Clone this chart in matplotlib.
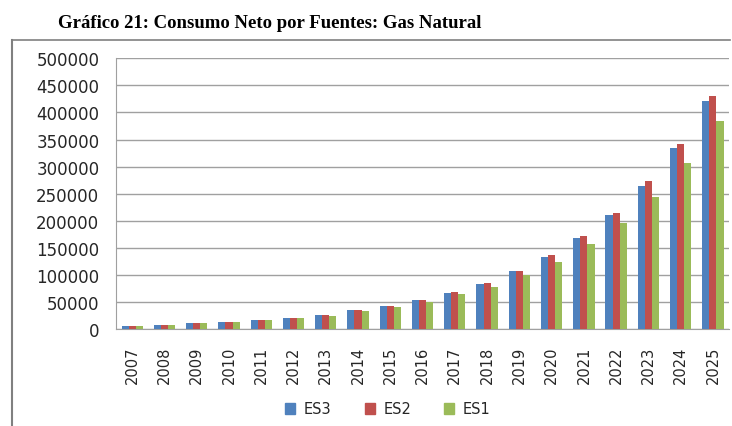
import matplotlib.pyplot as plt
import numpy as np
from matplotlib.lines import Line2D
from matplotlib.patches import Patch

YEARS = [str(y) for y in range(2007, 2026)]
ES3 = [6000, 8000, 11700, 13500, 16600, 20900, 25300, 34500, 41900, 52900,
       67100, 84000, 106500, 133000, 168100, 211200, 264700, 334900, 421100]
ES2 = [6000, 8000, 11700, 13500, 16600, 20900, 26500, 34500, 41900, 53000,
       68900, 85500, 106500, 136100, 171200, 214300, 272700, 341700, 431000]
ES1 = [5800, 7800, 11500, 13300, 16400, 20500, 24800, 32700, 40600, 49900,
       64000, 78000, 99700, 123700, 156400, 195200, 243800, 306600, 383600]

SERIES = [("ES3", ES3, "#4F81BD"), ("ES2", ES2, "#C0504D"), ("ES1", ES1, "#9BBB59")]
TXT = "#262626"


def main():
    fig = plt.figure(figsize=(7.32, 4.27), dpi=100)
    ax = fig.add_axes([0.1585, 0.2272, 0.8375, 0.6339])

    x = np.arange(len(YEARS))
    w = 0.22
    for k, (name, vals, col) in enumerate(SERIES):
        ax.bar(x + (k - 1) * w, vals, w, color=col, label=name, zorder=3)

    ax.set_xlim(-0.5, len(YEARS) - 0.5)
    ax.set_ylim(0, 500000)
    ax.set_yticks(np.arange(0, 500001, 50000))
    ax.set_xticks(x)
    ax.set_xticklabels(YEARS, rotation=90, fontsize=10.5)
    ax.tick_params(axis="y", labelsize=12, length=0, pad=12, labelcolor=TXT)
    ax.tick_params(axis="x", length=0, pad=12, labelcolor=TXT)
    ax.grid(axis="y", color="#a0a0a0", linewidth=1, zorder=0)
    for s in ["top", "right"]:
        ax.spines[s].set_visible(False)
    for s in ["left", "bottom"]:
        ax.spines[s].set_color("#a0a0a0")

    # outer chart frame (left and top edges visible)
    fig.add_artist(Line2D([12 / 732, 12 / 732], [0, 1 - 41 / 427],
                          color="#808080", linewidth=1.5))
    fig.add_artist(Line2D([12 / 732, 730 / 732], [1 - 41 / 427, 1 - 41 / 427],
                          color="#808080", linewidth=1.2))

    fig.text(270 / 732, 1 - 24 / 427, "Gráfico 21: Consumo Neto por Fuentes: Gas Natural",
             family="Liberation Serif", fontweight="bold", fontsize=13.5,
             ha="center", va="center")

    handles = [Patch(color=c, label=n) for n, _, c in SERIES]
    fig.legend(handles=handles, loc="center", bbox_to_anchor=(388 / 732, 1 - 410 / 427),
               ncol=3, frameon=False, fontsize=10.5, handlelength=0.7,
               handleheight=0.7, handletextpad=0.6, columnspacing=2.25,
               labelcolor=TXT)

    fig.savefig("out.png", dpi=100)
    plt.close(fig)


if __name__ == "__main__":
    main()
